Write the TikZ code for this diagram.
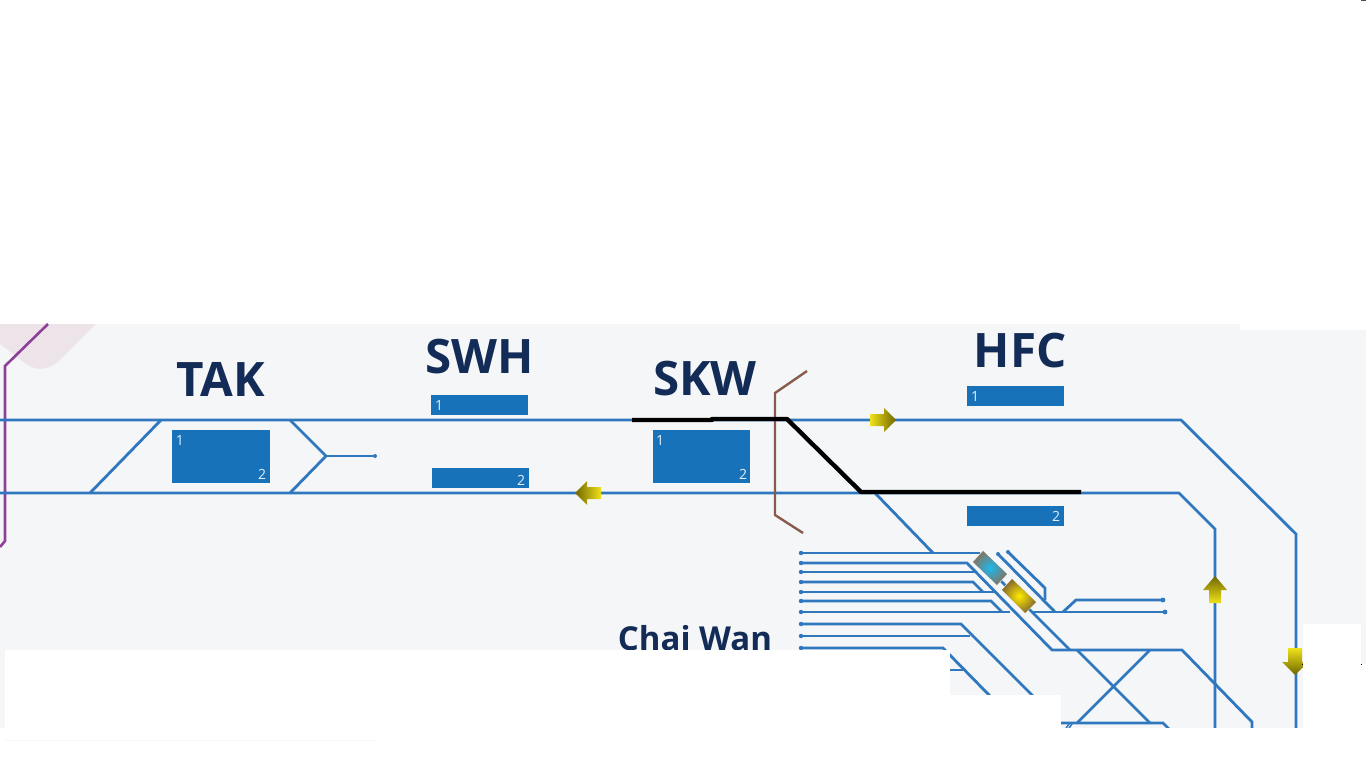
\documentclass[tikz,border=0pt]{standalone}
\usepackage{fontspec}
\setmainfont{Open Sans}
\definecolor{panelbg}{HTML}{F5F6F8}
\definecolor{track}{HTML}{2F78BF}
\definecolor{plat}{HTML}{1872B9}
\definecolor{navy}{HTML}{132B57}
\definecolor{brownline}{HTML}{8A5B4C}
\definecolor{purp}{HTML}{8E3F97}
\definecolor{pinkbg}{HTML}{EDE4EA}
\definecolor{ydark}{HTML}{6F6600}
\definecolor{ylight}{HTML}{F0E21A}
\definecolor{trainA}{HTML}{7D7868}
\definecolor{trainB}{HTML}{8A6F2A}
\definecolor{cyanin}{HTML}{1CB8EE}
\definecolor{yellin}{HTML}{FFEB00}
\tikzset{
  trk/.style={draw=track,line width=2.8pt,line join=miter},
  stub/.style={fill=track,draw=none},
  platbox/.style={fill=plat,draw=none},
  num/.style={text=white!88!plat,font=\fontsize{14}{14}\selectfont,inner sep=0pt},
  stn/.style={text=navy,font=\fontsize{47.5}{47.5}\selectfont\bfseries,inner sep=0pt},
  blackln/.style={draw=black,line width=4.4pt,line join=round},
  brownln/.style={draw=brownline,line width=2.4pt,line join=round},
  wh/.style={fill=white,draw=none},
  halo/.style={fill=white!70!panelbg,draw=white!85!gray,line width=1pt}
}
\begin{document}
\begin{tikzpicture}[x=1pt,y=-1pt]
\useasboundingbox (0,0) rectangle (1366,768);
\fill[white] (0,0) rectangle (1366,768);
\fill[black!70] (1361,0) rectangle (1366,1);
% panel
\fill[panelbg] (0,324) -- (1240,324) -- (1240,330) -- (1366,330) -- (1366,728) -- (0,728) -- cycle;
% pink blob
\fill[pinkbg] (0,324) -- (96,324) -- (62,358) .. controls (50,370) and (38,372) .. (26,364) -- (0,344) -- cycle;
% purple
\draw[draw=purp,line width=2.6pt] (48,324) -- (5,366) -- (5,541) -- (0,547);
% main tracks
\draw[trk] (0,420) -- (1181,420) -- (1296,534) -- (1296,728);
\draw[trk] (0,493) -- (1179,493) -- (1215,529) -- (1215,728);
% TAK sidings
\draw[trk] (90,493) -- (161,420);
\draw[trk] (290,420) -- (326,456) -- (290,493);
\draw[trk,line width=2.2pt] (326,456) -- (375,456);
\fill[stub] (375,456) circle (2pt);
% yard
\draw[trk] (875,493) -- (933,553);
\draw[trk] (801,553) -- (980,553);
\draw[trk] (801,563) -- (967,563) -- (1052,650) -- (1182,650) -- (1252,722) -- (1252,728);
\draw[trk] (801,572) -- (976,572);
\draw[trk] (801,582) -- (973,582) -- (983,592);
\draw[trk] (801,592) -- (994,592);
\draw[trk] (801,601) -- (991,601) -- (1002,612);
\draw[trk] (801,612) -- (1010,612);
\draw[trk] (1032,612) -- (1165,612);
\draw[trk] (985,565) -- (1070,650);
\draw[trk] (1077,650) -- (1150,723);
\draw[trk] (1150,650) -- (1077,723);
\draw[trk] (998,554) -- (1055,612);
\draw[trk] (1008,552) -- (1045,588) -- (1045,600);
\draw[trk] (1063,612) -- (1076,600) -- (1163,600);
\draw[trk] (801,624) -- (961,624) -- (1033,696);
\draw[trk] (801,636) -- (970,636);
\draw[trk] (801,648) -- (943,648) -- (990,696);
\draw[trk] (945,670) -- (963,670);
\draw[trk] (1061,723) -- (1163,723) -- (1170,730);
\draw[trk,line width=1.5pt] (1066,728) -- (1069,724);
\draw[trk,line width=1.5pt] (1069,728) -- (1072,724);
\foreach \yy in {553,563,572,582,592,601,612,624,636,648}{\fill[stub] (801,\yy) circle (2.2pt);}
\fill[stub] (1165,612) circle (2.4pt);
\fill[stub] (1163,600) circle (2.4pt);
\fill[stub] (998,554) circle (2pt);
\fill[stub] (1008,552) circle (2pt);
% trains
\fill[halo] (983,551) -- (1007,574) -- (997,585) -- (973,562) -- cycle;
\fill[halo] (1012,579) -- (1036,602) -- (1025,613) -- (1002,590) -- cycle;
\shade[inner color=cyanin,outer color=trainA] (983,551) -- (1007,574) -- (997,585) -- (973,562) -- cycle;
\shade[inner color=yellin,outer color=trainB] (1012,579) -- (1036,602) -- (1025,613) -- (1002,590) -- cycle;
% direction arrows
\shade[left color=ylight,right color=ydark] (870,414) -- (884,414) -- (884,408) -- (896,420) -- (884,432) -- (884,426) -- (870,426) -- cycle;
\shade[left color=ydark,right color=ylight] (601,487) -- (587,487) -- (587,481) -- (575,493) -- (587,505) -- (587,499) -- (601,499) -- cycle;
\shade[top color=ydark,bottom color=ylight] (1209,603) -- (1209,590) -- (1203,590) -- (1215,576) -- (1227,590) -- (1221,590) -- (1221,603) -- cycle;
\shade[top color=ylight,bottom color=ydark] (1288,648) -- (1288,662) -- (1282,662) -- (1295,675) -- (1308,662) -- (1302,662) -- (1302,648) -- cycle;
% brown gate
\draw[brownln] (807,371) -- (775,393) -- (775,515) -- (803,533);
% black highlight
\draw[blackln] (632,420) -- (712,420) -- (712,419) -- (787,419) -- (861,492) -- (1081,492);
% platforms
\node[platbox,minimum width=98pt,minimum height=53pt,inner sep=0pt] (takp) at (221,456.5) {};
\node[platbox,minimum width=97pt,minimum height=20pt,inner sep=0pt] (swha) at (479.5,405) {};
\node[platbox,minimum width=97pt,minimum height=20pt,inner sep=0pt] (swhb) at (480.5,478) {};
\node[platbox,minimum width=97pt,minimum height=53pt,inner sep=0pt] (skwp) at (701.5,456.5) {};
\node[platbox,minimum width=97pt,minimum height=20pt,inner sep=0pt] (hfca) at (1015.5,396) {};
\node[platbox,minimum width=97pt,minimum height=20pt,inner sep=0pt] (hfcb) at (1015.5,516) {};
\node[num] (n1) at (180,440) {1};
\node[num] (n2) at (262,474) {2};
\node[num] (n3) at (439,405) {1};
\node[num] (n4) at (521,480) {2};
\node[num] (n5) at (660,440) {1};
\node[num] (n6) at (743,474) {2};
\node[num] (n7) at (975,397) {1};
\node[num] (n8) at (1056,516) {2};
% station names
\node[stn] (tak) at (221,379) {TAK};
\node[stn] (swh) at (480,357) {SWH};
\node[stn] (skw) at (705,379) {SKW};
\node[stn] (hfc) at (1020,351) {HFC};
\node[text=navy,font=\fontsize{33}{33}\selectfont\bfseries,inner sep=0pt,anchor=base] (chai) at (695,650) {Chai Wan};
% white masks
\fill[wh] (5,650) rectangle (950,728);
\fill[wh] (950,695) rectangle (1061,728);
\fill[wh] (1303,624) rectangle (1361,664);
\fill[wh] (1303,664) rectangle (1366,728);
\fill[wh] (0,728) rectangle (1366,768);
\fill[panelbg] (5,740) rectangle (377,741);
\fill[black] (1302,664) rectangle (1303,665);
\fill[black] (1361,664) rectangle (1362,665);
\end{tikzpicture}
\end{document}
